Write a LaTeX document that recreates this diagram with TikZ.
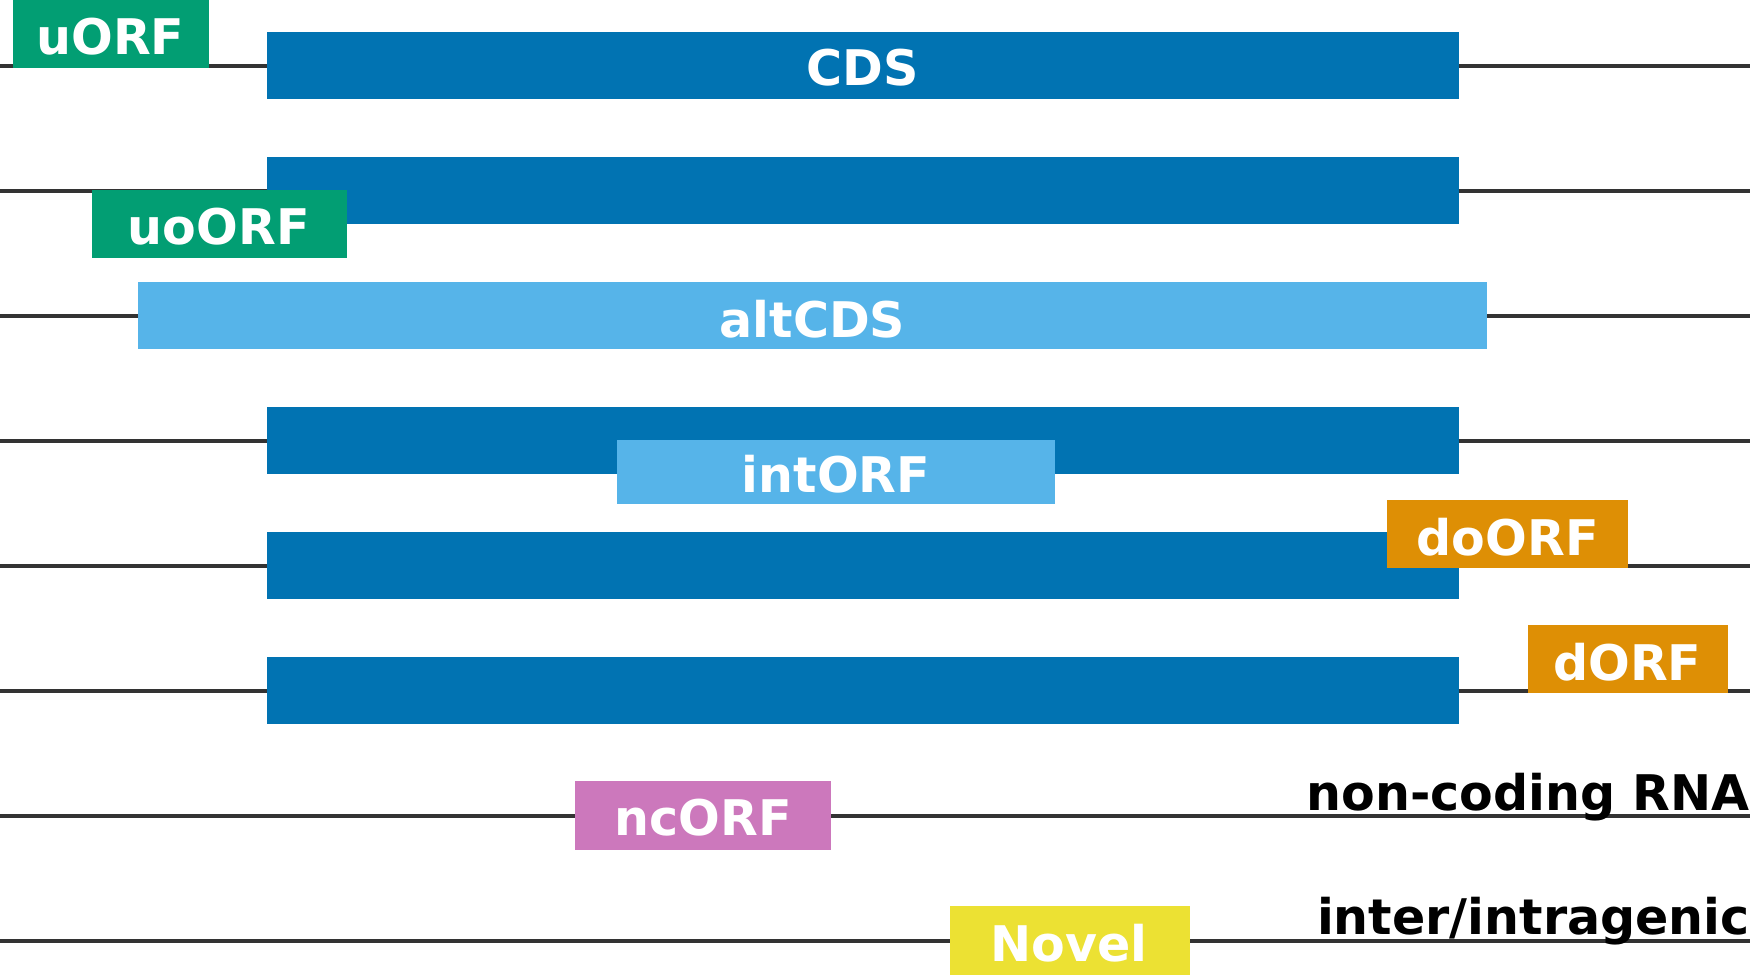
\documentclass[tikz,border=0pt]{standalone}
\usepackage{fontspec}
\setmainfont{DejaVu Sans}
\definecolor{cblue}{HTML}{0173B2}
\definecolor{lblue}{HTML}{56B4E9}
\definecolor{cgreen}{HTML}{029E73}
\definecolor{corange}{HTML}{DE8F05}
\definecolor{cpink}{HTML}{CC78BC}
\definecolor{cyellow}{HTML}{ECE133}
\definecolor{lgray}{HTML}{333333}
\tikzset{
 box/.style={inner sep=0pt,text=white,font=\bfseries\fontsize{44}{44}\selectfont},
 tx/.style={line width=3.3pt,draw=lgray}
}
\begin{document}
\begin{tikzpicture}[x=1pt,y=-1pt]
\useasboundingbox (0,0) rectangle (1568,874);
\foreach \y in {59,171,283,395,507,619,731,843} \draw[tx] (0,\y) -- (1568,\y);
\fill[cgreen] (12,0) rectangle (187,61); \node[box] (u) at (99,33) {uORF};
\fill[cblue] (239,29) rectangle (1307,89); \node[box] (cds) at (773,61) {CDS};
\fill[cblue] (239,141) rectangle (1307,201);
\fill[cgreen] (82,170) rectangle (311,231); \node[box] (uo) at (196,203) {uoORF};
\fill[lblue] (124,253) rectangle (1332,313); \node[box] (alt) at (728,286) {altCDS};
\fill[cblue] (239,365) rectangle (1307,425);
\fill[lblue] (553,394) rectangle (945,452); \node[box] (int) at (749,425) {intORF};
\fill[cblue] (239,477) rectangle (1307,537);
\fill[corange] (1243,448) rectangle (1459,509); \node[box] (do) at (1351,481) {doORF};
\fill[cblue] (239,589) rectangle (1307,649);
\fill[corange] (1369,560) rectangle (1548,621); \node[box] (d) at (1458,593) {dORF};
\fill[cpink] (515,700) rectangle (745,762); \node[box] (nc) at (630,733) {ncORF};
\fill[cyellow] (851,812) rectangle (1066,874); \node[box] (nov) at (958,845) {Novel};
\node[box,text=black,anchor=base east] (ncr) at (1568,726) {non-coding RNA};
\node[box,text=black,anchor=base east] (ig) at (1568,837) {inter/intragenic};
\end{tikzpicture}
\end{document}
